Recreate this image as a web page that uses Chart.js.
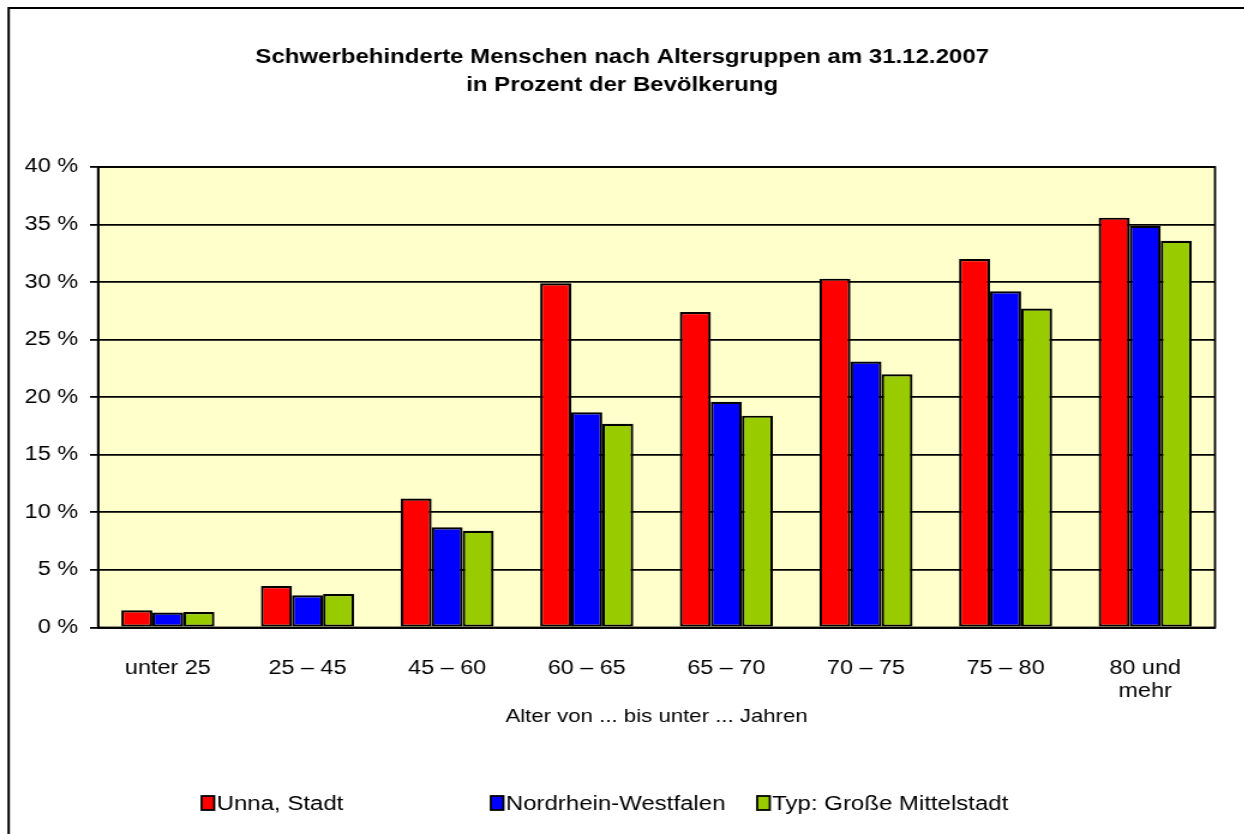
<!DOCTYPE html>
<html>
<head>
<meta charset="utf-8">
<script src="https://cdn.jsdelivr.net/npm/chart.js@4.4.1/dist/chart.umd.min.js"></script>
<style>
  html, body { margin: 0; padding: 0; background: #fff; overflow: hidden; }
  #wrap { width: 1244px; height: 834px; position: relative; }
  /* the original picture is stretched horizontally; do the same */
  #chart { position: absolute; left: 0; top: 0; transform: scaleX(1.2); transform-origin: 0 0; }
</style>
</head>
<body>
<div id="wrap"><canvas id="chart" width="1037" height="834"></canvas></div>
<script>
"use strict";

var categories = ['unter 25', '25 – 45', '45 – 60', '60 – 65', '65 – 70', '70 – 75', '75 – 80', ['80 und', 'mehr']];
var unnaStadt  = [1.5, 3.6, 11.2, 29.9, 27.4, 30.3, 32.0, 35.6];
var nrw        = [1.3, 2.8, 8.7, 18.7, 19.6, 23.1, 29.2, 34.9];
var mittelstadt = [1.35, 2.9, 8.4, 17.7, 18.4, 22.0, 27.7, 33.6];
var seriesNames = ['Unna, Stadt', 'Nordrhein-Westfalen', 'Typ: Große Mittelstadt'];
var seriesColors = ['#ff0000', '#0000ff', '#99cc00'];
var titleLines = ['Schwerbehinderte Menschen nach Altersgruppen am 31.12.2007', 'in Prozent der Bevölkerung'];
var xTitle = 'Alter von ... bis unter ... Jahren';

var FONT = "'Liberation Sans', Arial, sans-serif";

var decor = {
  id: 'decor',
  beforeDraw: function (chart) {
    var ctx = chart.ctx, a = chart.chartArea;
    ctx.save();
    ctx.fillStyle = '#ffffcc';
    ctx.fillRect(a.left, a.top, a.right - a.left, a.bottom - a.top);
    // outer frame (left and top only visible)
    ctx.strokeStyle = '#000';
    ctx.lineWidth = 2;
    ctx.beginPath();
    ctx.moveTo(7.2, 840);
    ctx.lineTo(7.2, 8);
    ctx.lineTo(1040, 8);
    ctx.stroke();
    ctx.restore();
  },
  beforeDatasetsDraw: function (chart) {
    var ctx = chart.ctx, a = chart.chartArea;
    ctx.save();
    ctx.strokeStyle = '#000';
    ctx.lineWidth = 1.8;
    ctx.strokeRect(a.left, a.top, a.right - a.left, a.bottom - a.top);
    ctx.restore();
  },
  afterDraw: function (chart) {
    var ctx = chart.ctx, a = chart.chartArea;
    ctx.save();
    ctx.fillStyle = '#000';
    ctx.textAlign = 'center';
    ctx.textBaseline = 'middle';
    ctx.font = 'bold 20px ' + FONT;
    ctx.fillText(titleLines[0], chart.width / 2, 57);
    ctx.fillText(titleLines[1], chart.width / 2, 85);

    ctx.font = '18.5px ' + FONT;
    ctx.fillText(xTitle, (a.left + a.right) / 2, 717);

    // legend
    var boxX = [168, 409, 631];
    ctx.font = '20px ' + FONT;
    ctx.textAlign = 'left';
    for (var i = 0; i < seriesNames.length; i++) {
      ctx.fillStyle = seriesColors[i];
      ctx.fillRect(boxX[i], 796, 10.5, 14);
      ctx.strokeStyle = '#000';
      ctx.lineWidth = 1.8;
      ctx.strokeRect(boxX[i], 796, 10.5, 14);
      ctx.fillStyle = '#000';
      ctx.fillText(seriesNames[i], boxX[i] + 12.5, 804);
    }
    ctx.restore();
  }
};

function makeSet(label, data, color) {
  return {
    label: label,
    data: data,
    backgroundColor: color,
    borderColor: '#000',
    borderWidth: 2.2,
    borderSkipped: false,
    categoryPercentage: 0.667,
    barPercentage: 1.0
  };
}

new Chart(document.getElementById('chart'), {
  type: 'bar',
  data: {
    labels: categories,
    datasets: [
      makeSet(seriesNames[0], unnaStadt, seriesColors[0]),
      makeSet(seriesNames[1], nrw, seriesColors[1]),
      makeSet(seriesNames[2], mittelstadt, seriesColors[2])
    ]
  },
  options: {
    responsive: false,
    animation: false,
    devicePixelRatio: 1,
    layout: { padding: { top: 167, right: 24.5, left: 0, bottom: 0 } },
    plugins: {
      legend: { display: false },
      title: { display: false },
      tooltip: { enabled: false }
    },
    scales: {
      x: {
        grid: { display: false },
        border: { display: true, color: '#000', width: 1.8 },
        ticks: {
          color: '#000',
          font: { family: FONT, size: 19.5 },
          padding: 21,
          maxRotation: 0,
          autoSkip: false
        },
        afterFit: function (s) { s.height = 834 - 627.5; }
      },
      y: {
        min: 0,
        max: 40,
        ticks: {
          stepSize: 5,
          color: '#000',
          font: { family: FONT, size: 19.5 },
          padding: 10,
          callback: function (v) { return v + ' %'; }
        },
        grid: { color: '#000', lineWidth: 1.8, tickLength: 6.7, drawTicks: true },
        border: { display: true, color: '#000', width: 1.8 },
        afterFit: function (s) { s.width = 81.7; }
      }
    }
  },
  plugins: [decor]
});
</script>
</body>
</html>
